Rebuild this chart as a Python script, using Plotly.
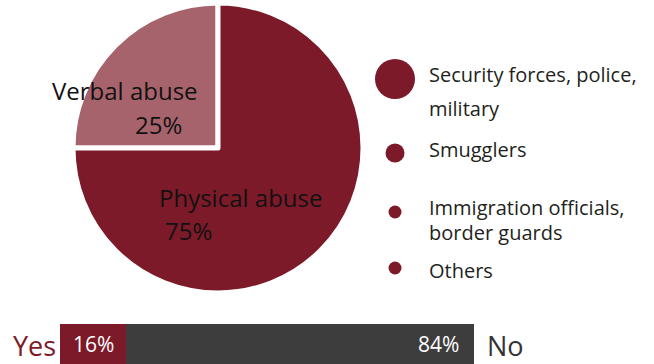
import plotly.graph_objects as go

# --- data ---------------------------------------------------------------
abuse_types = ["Verbal abuse", "Physical abuse"]
abuse_shares = [25, 75]

perpetrators = ["Security forces, police,<br>military", "Smugglers",
                "Immigration officials,<br>border guards", "Others"]

answer_labels = ["Yes", "No"]
answer_shares = [16, 84]

# --- styles / layout ----------------------------------------------------
W, H = 654, 364
MAROON = "#7d1a29"
ROSE = "#a7636c"
DARK = "#3e3d3d"
FONT = "Open Sans"

# pie geometry (pixels)
pie_cx, pie_cy, pie_r = 218, 148, 145

# perpetrator bubbles: diameters and row centres (pixels)
bubble_sizes = [40, 19, 13, 13]
bubble_x = 395
bubble_rows = [79, 153, 212, 268]
label_x = 427
label_line_rows = [[75, 108], [149], [207, 232.5], [270]]

# answer bar (pixels)
bar_left, bar_right, bar_top = 60, 474, 324


def px_x(x):
    return x / W


def px_y(y):
    return 1 - y / H


fig = go.Figure()

fig.add_trace(go.Pie(
    labels=abuse_types,
    values=abuse_shares,
    sort=False,
    direction="clockwise",
    rotation=-90,
    marker=dict(colors=[ROSE, MAROON], line=dict(color="white", width=5)),
    textinfo="none",
    hoverinfo="label+percent",
    showlegend=False,
    domain=dict(x=[px_x(pie_cx - pie_r), px_x(pie_cx + pie_r)],
                y=[px_y(pie_cy + pie_r), px_y(pie_cy - pie_r)]),
))

# slice captions
slice_caption_pos = {
    "Verbal abuse": [(50, 90), (133, 124)],
    "Physical abuse": [(157, 197), (163, 230)],
}
annotations = []
for name, share in zip(abuse_types, abuse_shares):
    (nx, ny), (vx, vy) = slice_caption_pos[name]
    for txt, x, y in [(name, nx, ny), (f"{share}%", vx, vy)]:
        annotations.append(dict(
            text=txt, x=px_x(x), y=px_y(y), xref="paper", yref="paper",
            xanchor="left", yanchor="middle", showarrow=False,
            font=dict(family=FONT, size=24, color="#111111")))

# perpetrator bubbles
fig.add_trace(go.Scatter(
    x=[bubble_x] * len(perpetrators),
    y=bubble_rows,
    mode="markers",
    marker=dict(size=bubble_sizes, color=MAROON, opacity=1, line=dict(width=0)),
    text=[p.replace("<br>", " ") for p in perpetrators],
    hoverinfo="text",
    showlegend=False,
    xaxis="x2", yaxis="y2",
))
for name, rows in zip(perpetrators, label_line_rows):
    for line, y in zip(name.split("<br>"), rows):
        annotations.append(dict(
            text=line, x=px_x(label_x), y=px_y(y), xref="paper", yref="paper",
            xanchor="left", yanchor="middle", showarrow=False,
            font=dict(family=FONT, size=20, color="#231f20")))

# yes / no stacked bar
bar_colors = [MAROON, DARK]
for lab, val, col in zip(answer_labels, answer_shares, bar_colors):
    fig.add_trace(go.Bar(
        x=[val], y=[0], orientation="h", name=lab,
        marker=dict(color=col, line=dict(width=0)),
        width=1, showlegend=False, hoverinfo="name+x",
    ))

annotations.append(dict(
    text=f"{answer_shares[0]}%", x=answer_shares[0] / 2, y=0,
    xref="x", yref="y", xanchor="center", yanchor="middle", yshift=0,
    showarrow=False, font=dict(family=FONT, size=21, color="white")))
annotations.append(dict(
    text=f"{answer_shares[1]}%", x=sum(answer_shares), y=0,
    xref="x", yref="y", xanchor="right", yanchor="middle", xshift=-13, yshift=0,
    showarrow=False, font=dict(family=FONT, size=21, color="white")))
annotations.append(dict(
    text=answer_labels[0], x=0, y=0, xref="x", yref="y",
    xanchor="right", yanchor="middle", xshift=-2, yshift=-1,
    showarrow=False, font=dict(family=FONT, size=27, color=MAROON)))
annotations.append(dict(
    text=answer_labels[1], x=sum(answer_shares), y=0, xref="x", yref="y",
    xanchor="left", yanchor="middle", xshift=11, yshift=-1,
    showarrow=False, font=dict(family=FONT, size=27, color="#333333")))

hidden = dict(visible=False, showgrid=False, zeroline=False, fixedrange=True)

fig.update_layout(
    width=W, height=H,
    margin=dict(l=0, r=0, t=0, b=0),
    paper_bgcolor="white", plot_bgcolor="rgba(0,0,0,0)",
    barmode="stack",
    xaxis=dict(hidden, domain=[px_x(bar_left), px_x(bar_right)],
               range=[0, sum(answer_shares)]),
    yaxis=dict(hidden, domain=[0, px_y(bar_top)], range=[-0.5, 0.5]),
    xaxis2=dict(hidden, domain=[0, 1], range=[0, W], anchor="y2"),
    yaxis2=dict(hidden, domain=[0, 1], range=[H, 0], anchor="x2"),
    annotations=annotations,
    font=dict(family=FONT),
)

fig.write_html("out.html")
